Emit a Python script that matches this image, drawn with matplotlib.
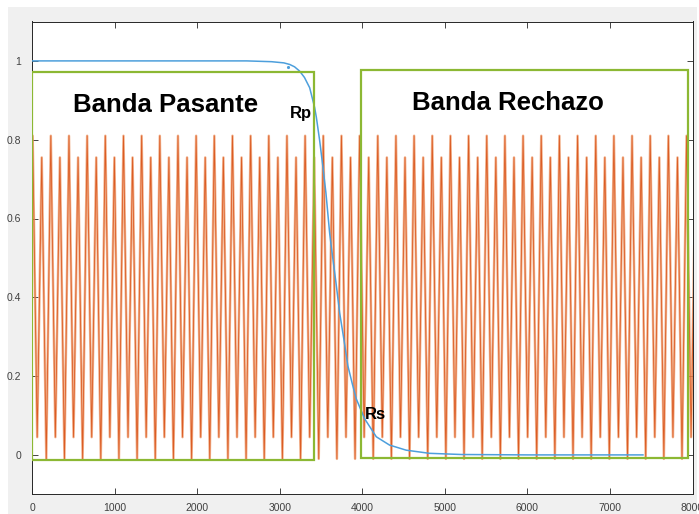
#!/usr/bin/env python3
"""
Filter magnitude response (blue) over a test signal (orange),
with the pass band / stop band marked by green boxes.
"""

import numpy as np
import matplotlib
matplotlib.use("Agg")
import matplotlib.pyplot as plt
from matplotlib.patches import Rectangle

# blue curve: magnitude response
resp_x = [0, 2600, 2900, 3050, 3121, 3180, 3242, 3300, 3363, 3423, 3444,
          3484, 3524, 3560, 3605, 3625, 3680, 3726, 3780, 3826, 3880, 3928,
          4028, 4170, 4330, 4532, 4814, 5200, 6000, 7400]
resp_y = [1.0, 1.0, 0.998, 0.995, 0.991, 0.985, 0.974, 0.958, 0.932, 0.882,
          0.857, 0.798, 0.73, 0.665, 0.563, 0.529, 0.44, 0.361, 0.29, 0.226,
          0.18, 0.142, 0.092, 0.046, 0.025, 0.012, 0.004, 0.001, 0.0, 0.0]
stray_dot = (3105, 0.985)

# orange signal: one cycle of extremes (tall peak, shallow trough,
# short peak, deep trough), repeated along the x axis
cycle_levels = [0.81, 0.045, 0.755, -0.01]
cycle_len = 220            # samples per cycle
first_peak = 8             # x of the first tall peak
n_extremes = 148

# green boxes: (x0, x1, y0, y1)
band_pass = (0, 3420, -0.012, 0.973)
band_stop = (3990, 7950, -0.009, 0.976)

labels = [("Banda Pasante", 1612, 0.889, 18.5),
          ("Banda Rechazo", 5766, 0.892, 18.5),
          ("Rp", 3252, 0.866, 12),
          ("Rs", 4159, 0.103, 12)]

xticks = list(range(0, 8001, 1000))
yticks = [0, 0.2, 0.4, 0.6, 0.8, 1]
ytick_labels = ["0", "0.2", "0.4", "0.6", "0.8", "1"]

W, H = 699, 514
fig = plt.figure(figsize=(W / 100, H / 100), dpi=100, facecolor="white")
# grey MATLAB-style figure background with thin white screenshot margin
fig.patches.append(Rectangle((8 / W, 0), (697 - 8) / W, (H - 7) / H,
                             transform=fig.transFigure, facecolor="#f0f0f0",
                             edgecolor="none", zorder=-10))

ax = fig.add_axes([32 / W, 19.7 / H, (692.5 - 32) / W, (494.3 - 21.5) / H])
ax.set_facecolor("white")

# orange signal
idx = np.arange(-1, n_extremes - 1)
sig_x = first_peak + idx * cycle_len / len(cycle_levels)
sig_y = np.array(cycle_levels)[idx % len(cycle_levels)]
ax.plot(sig_x, sig_y, color="#ee9a6a", lw=1.8, alpha=0.75, zorder=2,
        solid_joinstyle="round")
ax.plot(sig_x, sig_y, color="#d95319", lw=0.6, alpha=0.9, zorder=2)

# blue response
ax.plot(resp_x, resp_y, color="#4d9fdc", lw=1.1, zorder=3,
        solid_joinstyle="round")
ax.plot(*stray_dot, marker=".", ms=2.5, color="#4d9fdc", zorder=3)

# pass / stop band boxes
for x0, x1, y0, y1 in (band_pass, band_stop):
    ax.add_patch(Rectangle((x0, y0), x1 - x0, y1 - y0, fill=False,
                           edgecolor="#8cb833", lw=1.6, zorder=4))

for txt, x, y, size in labels:
    ax.text(x, y, txt, fontsize=size, fontweight="bold", color="black",
            family="Liberation Sans", ha="center", va="center", zorder=5)

ax.set_xlim(0, 8000)
ax.set_ylim(-0.1, 1.1)
ax.set_xticks(xticks)
ax.set_xticklabels([str(t) for t in xticks])
ax.set_yticks(yticks)
ax.set_yticklabels(ytick_labels)
ax.tick_params(direction="in", length=4.5, width=0.6, color="#262626",
               top=True, right=True, labelsize=7.5, labelcolor="#404040")
ax.tick_params(axis="y", pad=8)
ax.tick_params(axis="x", pad=6)
for lab in ax.get_xticklabels() + ax.get_yticklabels():
    lab.set_family("Liberation Sans")
for sp in ax.spines.values():
    sp.set_linewidth(0.7)
    sp.set_color("#262626")

fig.savefig("out.png", dpi=100, facecolor=fig.get_facecolor())
